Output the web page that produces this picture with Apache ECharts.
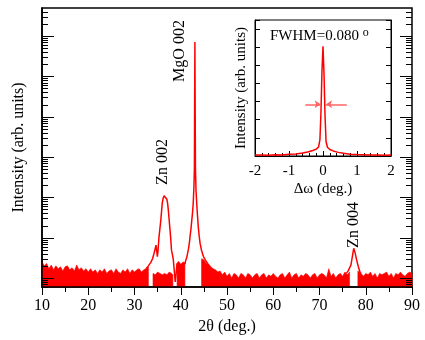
<!DOCTYPE html>
<html>
<head>
<meta charset="utf-8">
<script src="https://cdn.jsdelivr.net/npm/echarts@6/dist/echarts.min.js"></script>
<style>
html, body { margin: 0; padding: 0; background: #fff; }
#chart { width: 425px; height: 340px; }
</style>
</head>
<body>
<div id="chart"></div>
<script>
// main scan: baseline noise band (top edge, null = gap where the trace keeps clear of the axis)
var noiseTheta = [10.0, 10.5, 11.0, 11.5, 12.0, 12.5, 13.0, 13.5, 14.0, 14.5, 15.0, 15.5, 16.0, 16.5, 17.0, 17.5, 18.0, 18.5, 19.0, 19.5,
  20.0, 20.5, 21.0, 21.5, 22.0, 22.5, 23.0, 23.5, 24.0, 24.5, 25.0, 25.5, 26.0, 26.5, 27.0, 27.5, 28.0, 28.5, 29.0, 29.5,
  30.0, 30.5, 31.0, 31.5, 32.0, 32.5, 33.0, 33.5,
  34.0, 34.5, 35.0, 35.5, 36.0, 36.5, 37.0, 37.5, 38.0, 38.3, 38.7,
  39.2, 39.5, 40.0, 40.5, 40.9, 42.5,
  44.5, 45.0, 45.5, 46.0, 46.5, 47.0, 47.5, 48.0, 48.5, 49.0, 49.5, 50.0, 50.5, 51.0, 51.5, 52.0, 52.5, 53.0, 53.5, 54.0,
  54.5, 55.0, 55.5, 56.0, 56.5, 57.0, 57.5, 58.0, 58.5, 59.0, 59.5, 60.0, 60.5, 61.0, 61.5, 62.0, 62.5, 63.0, 63.5, 64.0,
  64.5, 65.0, 65.5, 66.0, 66.5, 67.0, 67.5, 68.0, 68.5, 69.0, 69.5, 70.0, 70.5, 71.0, 71.5, 72.0, 72.5, 73.0, 73.5, 74.0,
  74.5, 75.0, 75.5, 76.0, 76.5, 77.4,
  78.3, 78.5, 79.0, 79.5, 80.0, 80.5, 81.0, 81.5, 82.0, 82.5, 83.0, 83.5, 84.0, 84.5, 85.0, 85.5, 86.0, 86.5, 87.0, 87.5,
  88.0, 88.5, 89.0, 89.5, 90.0];
var noiseTop = [2.5, 2.0, 2.3, 1.7, 2.1, 1.6, 2.0, 1.7, 1.9, 1.5, 1.9, 2.0, 1.6, 1.8, 1.5, 2.1, 1.6, 1.8, 1.5, 1.7,
  1.4, 1.7, 1.4, 1.6, 1.3, 1.6, 1.4, 1.7, 1.3, 1.5, 1.6, 1.3, 1.7, 1.4, 1.3, 1.6, 1.4, 1.7, 1.3, 1.6,
  1.4, 1.6, 1.7, 1.4, 1.6, 1.7, 1.9, null,
  1.3, 1.2, 1.4, 1.3, 1.2, 1.3, 1.2, 1.4, 1.3, 1.2, null,
  2.3, 2.6, 2.2, 2.5, 2.4, null,
  3.0, 2.8, 2.3, 2.2, 1.9, 1.7, 1.6, 1.4, 1.5, 1.2, 1.4, 1.1, 1.3, 1.0, 1.3, 1.2, 1.0, 1.3, 1.2, 1.0,
  1.3, 1.2, 1.0, 1.2, 1.3, 1.0, 1.2, 1.3, 1.0, 1.2, 1.1, 1.3, 1.1, 1.0, 1.2, 1.3, 1.0, 1.2, 1.4, 1.0,
  1.2, 1.3, 1.0, 1.2, 1.1, 1.3, 1.2, 1.0, 1.2, 1.3, 1.0, 1.2, 1.3, 1.2, 1.0, 1.7, 1.1, 1.3, 1.0, 1.2,
  1.3, 1.1, 1.4, 1.2, 1.4, null,
  1.5, 1.4, 1.3, 1.1, 1.3, 1.2, 1.4, 1.1, 1.3, 1.0, 1.3, 1.2, 1.3, 1.4, 1.1, 1.3, 1.0, 1.3, 1.2, 1.4,
  1.2, 1.1, 1.3, 1.4, 1.3];

// peak profiles
var zn002Theta = [32.5, 33.0, 33.5, 33.9, 34.2, 34.45, 34.65, 34.8, 34.95, 35.1, 35.3, 35.5, 35.7, 35.85, 36.0, 36.2, 36.4, 36.6,
  36.8, 37.0, 37.15, 37.3, 37.5, 37.65, 37.8, 38.0, 38.2, 38.4, 38.6, 38.8, 39.0, 39.2];
var zn002Int = [1.7, 2.0, 2.4, 3.0, 4.0, 5.2, 6.5, 4.6, 3.4, 5.0, 10.5, 17, 28, 45, 72, 95, 110, 116,
  108, 90, 72, 50, 27, 17, 10.6, 4.9, 3.8, 2.8, 1.5, 0.8, 1.3, 2.3];

var mgo002Theta = [40.9, 41.1, 41.3, 41.5, 41.7, 41.9, 42.0, 42.2, 42.4, 42.55, 42.7, 42.85, 42.95, 43.02, 43.06, 43.1, 43.18,
  43.3, 43.45, 43.6, 43.8, 44.0, 44.2, 44.5, 44.9, 45.3, 45.8, 46.3];
var mgo002Int = [2.2, 2.8, 3.2, 4.2, 5.5, 8.0, 10.6, 16, 28, 42, 72, 180, 500, 5e4, 7.1e5, 5e4, 500,
  150, 72, 38, 18, 10.6, 7, 4.8, 3.4, 2.8, 2.3, 1.9];

var zn004Theta = [75.8, 76.2, 76.5, 76.8, 77.1, 77.4, 77.7, 78.0, 78.4, 78.8, 79.0];
var zn004Int = [1.3, 1.5, 1.35, 2.1, 3.4, 5.45, 4.2, 2.9, 1.9, 1.35, 1.3];

// inset: rocking curve
var omega = [-2.0, -1.8, -1.6, -1.4, -1.2, -1.0, -0.8, -0.6, -0.45, -0.3, -0.2, -0.13, -0.09, -0.06, -0.03, 0.0,
  0.03, 0.06, 0.09, 0.13, 0.2, 0.3, 0.45, 0.6, 0.8, 1.0, 1.2, 1.4, 1.6, 1.8, 2.0];
var rocking = [0.05, 0.06, 0.04, 0.07, 0.06, 0.09, 0.11, 0.16, 0.22, 0.3, 0.38, 0.5, 0.9, 2.4, 4.7, 6.05,
  4.5, 2.2, 0.8, 0.48, 0.36, 0.28, 0.2, 0.15, 0.1, 0.08, 0.07, 0.05, 0.06, 0.04, 0.05];
var fwhmLevel = 2.85;
var fwhmLeft = [-0.52, -0.07];
var fwhmRight = [0.70, 0.09];

var thetaTicks = [10, 20, 30, 40, 50, 60, 70, 80, 90];
var omegaTicks = [-2, -1, 0, 1, 2];
var logDecades = [0.1, 1, 10, 100, 1e3, 1e4, 1e5, 1e6];
var logMantissas = [1, 2, 3, 4, 5, 6, 7, 8, 9];

var X_MIN = 10, X_MAX = 90, Y_MIN = 0.598, Y_MAX = 4.95e6;
var RED = '#ff0000';
var FONT = 'Liberation Serif';

function zip(a, b) {
  return a.map(function (v, i) { return [v, b[i]]; });
}

var yTicks = [];
logDecades.forEach(function (d) {
  logMantissas.forEach(function (m) {
    var v = m * d;
    if (v > Y_MIN && v < Y_MAX) yTicks.push([X_MIN, v]);
  });
});

function crisp(v) { return Math.round(v) + 0.5; }

function renderNoise(params, api) {
  var polys = [], run = [];
  function flush() {
    if (run.length > 1) {
      var pts = run.map(function (p) { return api.coord(p); });
      for (var i = run.length - 1; i >= 0; i--) pts.push(api.coord([run[i][0], Y_MIN]));
      polys.push({ type: 'polygon', shape: { points: pts }, style: { fill: RED, stroke: RED, lineWidth: 0.6 } });
    }
    run = [];
  }
  noiseTheta.forEach(function (t, i) {
    if (noiseTop[i] == null) flush();
    else run.push([t, noiseTop[i]]);
  });
  flush();
  return { type: 'group', children: polys };
}

function renderTick(params, api) {
  var v = api.value(1);
  var a = api.coord([X_MIN, v]), b = api.coord([X_MAX, v]);
  var lg = Math.log10(v);
  var len = Math.abs(lg - Math.round(lg)) < 1e-6 ? 12 : 6;
  var y = crisp(a[1]);
  var st = { stroke: '#000', lineWidth: 1 };
  return {
    type: 'group',
    children: [
      { type: 'line', shape: { x1: a[0], y1: y, x2: a[0] + len, y2: y }, style: st },
      { type: 'line', shape: { x1: b[0], y1: y, x2: b[0] - len, y2: y }, style: st }
    ]
  };
}

var chart = echarts.init(document.getElementById('chart'));

var option = {
  animation: false,
  backgroundColor: '#fff',
  textStyle: { fontFamily: FONT, color: '#000' },
  grid: [
    { left: 42, right: 13, top: 8, bottom: 53, show: true, borderColor: '#000', borderWidth: 1.5, backgroundColor: 'transparent' },
    { left: 255, right: 34, top: 20, bottom: 184, show: true, borderColor: '#000', borderWidth: 1, backgroundColor: '#fff' }
  ],
  xAxis: [
    {
      gridIndex: 0, type: 'value', min: X_MIN, max: X_MAX, interval: 10, z: 10,
      axisLine: { show: true, onZero: false, lineStyle: { color: '#000', width: 1.5 } },
      axisTick: { show: true, inside: false, length: 8, lineStyle: { color: '#000', width: 1 } },
      minorTick: { show: true, splitNumber: 2, length: 5, lineStyle: { color: '#000', width: 1 } },
      splitLine: { show: false },
      axisLabel: {
        margin: 11, fontSize: 16, fontFamily: FONT, color: '#000',
        formatter: function (v) { return thetaTicks.indexOf(v) >= 0 ? String(v) : ''; }
      },
      name: '2θ (deg.)', nameLocation: 'middle', nameGap: 30,
      nameTextStyle: { fontSize: 16, fontFamily: FONT, color: '#000' }
    },
    {
      gridIndex: 1, type: 'value', min: -2, max: 2, interval: 1,
      axisLine: { show: true, onZero: false, lineStyle: { color: '#000', width: 1 } },
      axisTick: { show: true, inside: true, length: 5, lineStyle: { color: '#000', width: 1 } },
      minorTick: { show: true, splitNumber: 5, length: 3, lineStyle: { color: '#000', width: 1 } },
      splitLine: { show: false },
      axisLabel: {
        margin: 8, fontSize: 15, fontFamily: FONT, color: '#000',
        formatter: function (v) { return omegaTicks.indexOf(v) >= 0 ? String(v) : ''; }
      },
      name: 'Δω (deg.)', nameLocation: 'middle', nameGap: 26,
      nameTextStyle: { fontSize: 15, fontFamily: FONT, color: '#000' }
    }
  ],
  yAxis: [
    {
      gridIndex: 0, type: 'log', logBase: 10, min: Y_MIN, max: Y_MAX, z: 10,
      axisLine: { show: true, onZero: false, lineStyle: { color: '#000', width: 1.5 } },
      axisTick: { show: false }, axisLabel: { show: false }, splitLine: { show: false },
      name: 'Intensity (arb. units)', nameLocation: 'middle', nameGap: 15,
      nameTextStyle: { fontSize: 16, fontFamily: FONT, color: '#000' }
    },
    {
      gridIndex: 1, type: 'value', min: 0, max: 7.5, interval: 1,
      axisLine: { show: true, onZero: false, lineStyle: { color: '#000', width: 1 } },
      axisTick: { show: true, inside: true, length: 5, lineStyle: { color: '#000', width: 1 } },
      axisLabel: { show: false }, splitLine: { show: false },
      name: 'Intensity (arb. units)', nameLocation: 'middle', nameGap: 6,
      nameTextStyle: { fontSize: 15, fontFamily: FONT, color: '#000' }
    },
    {
      gridIndex: 1, type: 'value', position: 'right', min: 0, max: 7.5, interval: 1,
      axisLine: { show: true, onZero: false, lineStyle: { color: '#000', width: 1 } },
      axisTick: { show: true, inside: true, length: 5, lineStyle: { color: '#000', width: 1 } },
      axisLabel: { show: false }, splitLine: { show: false }
    }
  ],
  series: [
    {
      name: 'noise', type: 'custom', xAxisIndex: 0, yAxisIndex: 0,
      data: [[X_MIN, 1]], renderItem: renderNoise, silent: true, z: 2
    },
    {
      name: 'Zn 002', type: 'line', xAxisIndex: 0, yAxisIndex: 0, data: zip(zn002Theta, zn002Int),
      symbol: 'none', lineStyle: { color: RED, width: 1.5 }, silent: true, z: 3
    },
    {
      name: 'MgO 002', type: 'line', xAxisIndex: 0, yAxisIndex: 0, data: zip(mgo002Theta, mgo002Int),
      symbol: 'none', lineStyle: { color: RED, width: 1.5 }, silent: true, z: 3
    },
    {
      name: 'Zn 004', type: 'line', xAxisIndex: 0, yAxisIndex: 0, data: zip(zn004Theta, zn004Int),
      symbol: 'none', lineStyle: { color: RED, width: 1.5 }, silent: true, z: 3
    },
    {
      name: 'ticks', type: 'custom', xAxisIndex: 0, yAxisIndex: 0,
      data: yTicks, renderItem: renderTick, silent: true, clip: false, z: 11
    },
    {
      name: 'rocking', type: 'line', xAxisIndex: 1, yAxisIndex: 1, data: zip(omega, rocking),
      symbol: 'none', lineStyle: { color: RED, width: 1.5 }, silent: true, z: 3,
      markLine: {
        silent: true, symbol: ['none', 'arrow'], symbolSize: 6,
        lineStyle: { color: '#ff6464', width: 1.5, type: 'solid' },
        label: { show: false },
        data: [
          [{ coord: [fwhmLeft[0], fwhmLevel] }, { coord: [fwhmLeft[1], fwhmLevel] }],
          [{ coord: [fwhmRight[0], fwhmLevel] }, { coord: [fwhmRight[1], fwhmLevel] }]
        ]
      }
    }
  ],
  graphic: [
    {
      type: 'text', left: 270, top: 27, z: 20,
      style: {
        text: 'FWHM=0.080 {sup|o}', fontSize: 15, fontFamily: FONT, fill: '#000',
        rich: { sup: { fontSize: 12, fontFamily: FONT, verticalAlign: 'top', padding: [0, 0, 6, 0] } }
      }
    },
    {
      type: 'text', x: 180, y: 51, rotation: Math.PI / 2, z: 20,
      style: { text: 'MgO 002', fontSize: 16, fontFamily: FONT, fill: '#000', align: 'center', verticalAlign: 'middle' }
    },
    {
      type: 'text', x: 163, y: 162, rotation: Math.PI / 2, z: 20,
      style: { text: 'Zn 002', fontSize: 16, fontFamily: FONT, fill: '#000', align: 'center', verticalAlign: 'middle' }
    },
    {
      type: 'text', x: 354, y: 225, rotation: Math.PI / 2, z: 20,
      style: { text: 'Zn 004', fontSize: 16, fontFamily: FONT, fill: '#000', align: 'center', verticalAlign: 'middle' }
    }
  ]
};

chart.setOption(option);
</script>
</body>
</html>
